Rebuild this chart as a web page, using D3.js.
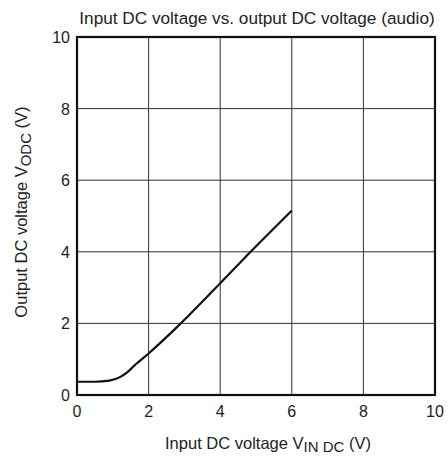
<!DOCTYPE html>
<html>
<head>
<meta charset="utf-8">
<script src="https://cdn.jsdelivr.net/npm/d3@7"></script>
<style>
  body { margin: 0; background: #fff; }
  text { font-family: "Liberation Sans", Arial, sans-serif; fill: #222; }
</style>
</head>
<body>
<script>
var width = 448,
    height = 457,
    margin = {top: 37, right: 13, bottom: 62, left: 77};

// curve
var vin  = [0, 0.5, 0.9, 1.2, 1.4, 1.6, 2.0, 2.9, 4.0, 4.85, 6.0];
var vout = [0.37, 0.37, 0.40, 0.50, 0.63, 0.82, 1.16, 2.0, 3.12, 4.0, 5.15];

var xTicks = [0, 2, 4, 6, 8, 10],
    yTicks = [0, 2, 4, 6, 8, 10];

var w = width - margin.left - margin.right,
    h = height - margin.top - margin.bottom;

var x = d3.scaleLinear().domain([0, 10]).range([0, w]);
var y = d3.scaleLinear().domain([0, 10]).range([h, 0]);

var svg = d3.select("body").append("svg")
    .attr("width", width)
    .attr("height", height);

var g = svg.append("g")
    .attr("transform", "translate(" + margin.left + "," + margin.top + ")");

// grid
g.selectAll(".vgrid")
    .data(xTicks.slice(1, -1))
  .enter().append("line")
    .attr("x1", function(d) { return x(d); })
    .attr("x2", function(d) { return x(d); })
    .attr("y1", 0).attr("y2", h)
    .attr("stroke", "#333").attr("stroke-width", 1);

g.selectAll(".hgrid")
    .data(yTicks.slice(1, -1))
  .enter().append("line")
    .attr("y1", function(d) { return y(d); })
    .attr("y2", function(d) { return y(d); })
    .attr("x1", 0).attr("x2", w)
    .attr("stroke", "#333").attr("stroke-width", 1);

// frame
g.append("rect")
    .attr("width", w).attr("height", h)
    .attr("fill", "none")
    .attr("stroke", "#111").attr("stroke-width", 2.2);

// tick labels
g.selectAll(".xt")
    .data(xTicks)
  .enter().append("text")
    .attr("x", function(d) { return x(d); })
    .attr("y", h + 22)
    .attr("text-anchor", "middle")
    .style("font-size", "16px")
    .text(function(d) { return d; });

g.selectAll(".yt")
    .data(yTicks)
  .enter().append("text")
    .attr("x", -7)
    .attr("y", function(d) { return y(d) + 6; })
    .attr("text-anchor", "end")
    .style("font-size", "16px")
    .text(function(d) { return d; });

// curve
var line = d3.line()
    .x(function(d) { return x(d[0]); })
    .y(function(d) { return y(d[1]); })
    .curve(d3.curveMonotoneX);

g.append("path")
    .datum(d3.zip(vin, vout))
    .attr("d", line)
    .attr("fill", "none")
    .attr("stroke", "#111")
    .attr("stroke-width", 2.2);

// title
svg.append("text")
    .attr("x", 257).attr("y", 24)
    .attr("text-anchor", "middle")
    .style("font-size", "17.2px")
    .text("Input DC voltage vs. output DC voltage (audio)");

// x label
var xl = svg.append("text")
    .attr("x", 268).attr("y", 449)
    .attr("text-anchor", "middle")
    .style("font-size", "16.5px");
xl.append("tspan").text("Input DC voltage V");
xl.append("tspan").attr("dy", 3).style("font-size", "15px").text("IN DC");
xl.append("tspan").attr("dy", -3).text(" (V)");

// y label
var yl = svg.append("text")
    .attr("transform", "translate(27,212) rotate(-90)")
    .attr("text-anchor", "middle")
    .style("font-size", "16.5px");
yl.append("tspan").text("Output DC voltage V");
yl.append("tspan").attr("dy", 4).style("font-size", "15px").text("ODC");
yl.append("tspan").attr("dy", -4).text(" (V)");
</script>
</body>
</html>
